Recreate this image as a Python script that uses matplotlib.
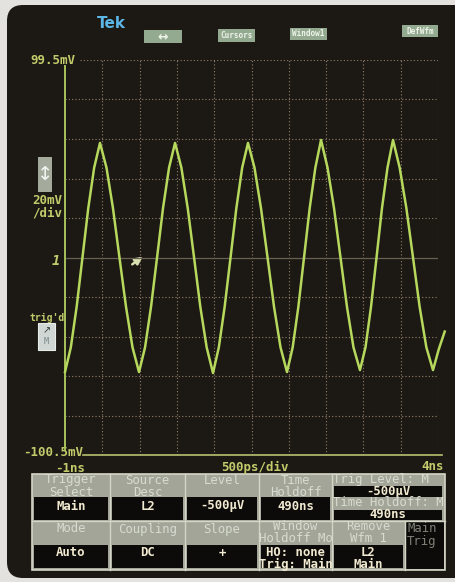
import numpy as np
import matplotlib.pyplot as plt
from matplotlib.patches import FancyBboxPatch, Rectangle

W, H = 455, 582

# trace: time in ns, level in mV
t_ns = [-1.000, -0.922, -0.844, -0.766, -0.688, -0.609, -0.531,
        -0.444, -0.357, -0.270, -0.182, -0.095, -0.008,
        0.073, 0.153, 0.234, 0.314, 0.395, 0.475,
        0.560, 0.645, 0.730, 0.814, 0.899, 0.984,
        1.062, 1.140, 1.219, 1.297, 1.375, 1.453,
        1.540, 1.627, 1.715, 1.802, 1.889, 1.976,
        2.052, 2.128, 2.204, 2.280, 2.356, 2.432,
        2.519, 2.606, 2.693, 2.780, 2.867, 2.954,
        3.028, 3.102, 3.176, 3.249, 3.323, 3.397,
        3.486, 3.576, 3.665, 3.754, 3.844, 3.933,
        4.010, 4.090]
v_mv = [-58.5, -46, -25.5, -0.5, 24.5, 45, 57.5,
        45, 24.5, -0.5, -25.5, -46, -58.5,
        -46, -25.5, -0.5, 24.5, 45, 57.5,
        45, 24.5, -0.5, -25.5, -46, -59,
        -46, -25.5, -0.5, 24.5, 45, 57.5,
        45, 24.5, -0.5, -25.5, -46, -58.5,
        -46, -25.5, -0.5, 24.5, 45, 59,
        45, 24.5, -0.5, -25.5, -46, -57.5,
        -46, -25.5, -0.5, 24.5, 45, 59,
        45, 24.5, -0.5, -25.5, -46, -57.5,
        -47, -38]

v_top, v_bot = 99.5, -100.5
t_left, t_right = -1, 4
mv_per_div = 20
ns_per_div = 0.5
trig_mv = -0.5

top_buttons = ['\u2194', 'Cursors', 'Window1', 'DefWfm']

row1_labels = [['Trigger', 'Select'], ['Source', 'Desc'], ['Level'], ['Time', 'Holdoff']]
row1_values = ['Main', 'L2', '-500\u00b5V', '490ns']
row2_labels = [['Mode'], ['Coupling'], ['Slope'], ['Window', 'Holdoff Mo'], ['Remove', 'Wfm 1']]
row2_values = [['Auto'], ['DC'], ['+'], ['HO: none', 'Trig: Main'], ['L2', 'Main']]

TRACE = '#b6d85c'
AXIS = '#a8c25a'
TXT = '#c2ca6a'
GRID = '#927f68'
MONO = 'DejaVu Sans Mono'

fig = plt.figure(figsize=(W / 100, H / 100), dpi=100)
fig.patch.set_facecolor('#e4e2de')
bg = fig.add_axes([0, 0, 1, 1])
bg.set_xlim(0, W)
bg.set_ylim(H, 0)
bg.axis('off')
bg.add_patch(FancyBboxPatch((7, 5), 470, 573, boxstyle='round,pad=0,rounding_size=16',
                            fc='#1c1915', ec='none'))

# screen axes
ax = fig.add_axes([65 / W, (H - 455) / H, 373 / W, 395 / H])
ax.set_xlim(t_left, t_right)
ax.set_ylim(v_bot, v_top)
ax.axis('off')

for x in np.arange(t_left + ns_per_div, t_right + 0.01, ns_per_div):
    ax.axvline(x, ls=(0, (1, 2)), color=GRID, lw=0.8)
for k in range(10):
    y = v_top - k * mv_per_div
    if k == 5:
        continue
    ax.axhline(y, xmin=0.04 if k == 0 else 0, ls=(0, (1, 2)), color=GRID, lw=0.8)
ax.axhline(trig_mv, color='#6a6050', lw=0.9)

ax.plot([t_left, t_left], [v_bot + 2.5, v_top - 3], color=AXIS, lw=1.4, clip_on=False)
ax.plot([t_left + 0.24, t_right + 0.054], [v_bot, v_bot], color='#b8c070', lw=1.2, clip_on=False)

ax.plot(t_ns, v_mv, color=TRACE, lw=1.8, clip_on=False, solid_joinstyle='round')

# trigger arrow
bg.annotate('', xy=(145, 255), xytext=(130, 266),
            arrowprops=dict(arrowstyle='-|>', color='#d8e0b0', lw=1.8, mutation_scale=11))

# scale texts
bg.text(75, 61, '99.5mV', color=TXT, fontsize=9, family=MONO, fontweight='bold', ha='right', va='center')
bg.text(83, 453, '-100.5mV', color=TXT, fontsize=9, family=MONO, fontweight='bold', ha='right', va='center')
bg.text(70, 468, '-1ns', color=TXT, fontsize=9, family=MONO, fontweight='bold', ha='center', va='center')
bg.text(255, 467, '500ps/div', color=TXT, fontsize=9, family=MONO, fontweight='bold', ha='center', va='center')
bg.text(444, 467, '4ns', color=TXT, fontsize=9, family=MONO, fontweight='bold', ha='right', va='center')
bg.text(47, 200, '20mV', color=TXT, fontsize=9, family=MONO, fontweight='bold', ha='center', va='center')
bg.text(47, 213, '/div', color=TXT, fontsize=9, family=MONO, fontweight='bold', ha='center', va='center')
bg.text(47, 318, "trig'd", color=TXT, fontsize=7, family=MONO, fontweight='bold', ha='center', va='center')
bg.text(56, 261, '1', color=TXT, fontsize=10, family=MONO, fontweight='bold', ha='center', va='center',
        style='italic')

# up/down box and trig'd box
bg.add_patch(Rectangle((38, 157), 14, 35, fc='#a4ab9c', ec='none'))
bg.text(45, 174, '\u2195', color='#f0f4f0', fontsize=14, ha='center', va='center')
bg.add_patch(Rectangle((38, 323), 17, 27, fc='#cfd6d4', ec='#e8ece8', lw=0.8))
bg.text(46.5, 330, '\u2197', color='#304040', fontsize=7, ha='center', va='center')
bg.text(46.5, 342, 'M', color='#7a8888', fontsize=6, family=MONO, ha='center', va='center')

# top bar
bg.text(111, 23, 'Tek', color='#5cb6e6', fontsize=11, fontweight='bold', ha='center', va='center')
btn_boxes = [(144, 30, 38, 13), (218, 29, 37, 13), (290, 28, 37, 12), (402, 25, 36, 12)]
for (bx, by, bw, bh), lab in zip(btn_boxes, top_buttons):
    bg.add_patch(Rectangle((bx, by), bw, bh, fc='#94aa90', ec='none'))
    bg.text(bx + bw / 2, by + bh / 2, lab, color='#eef4ea', fontsize=5.5 if lab != '\u2194' else 9,
            fontweight='bold', ha='center', va='center', family=MONO if lab != '\u2194' else None)

# menu table
cx = [32, 110, 185, 259, 332, 405, 445]
LBL = '#d8dbcf'
VAL = '#f2ead0'
GRAY = '#a2a598'
EDGE = '#d4d6c6'
bg.add_patch(Rectangle((32, 474), 413, 96, fc=GRAY, ec=EDGE, lw=1.2))
for i in range(4):
    bg.add_patch(Rectangle((cx[i] + 2, 497), cx[i + 1] - cx[i] - 4, 23, fc='#0c0b09', ec='none'))
for i in range(5):
    bg.add_patch(Rectangle((cx[i] + 2, 545), cx[i + 1] - cx[i] - 4, 23, fc='#0c0b09', ec='none'))
bg.add_patch(Rectangle((cx[5] + 1, 522), cx[6] - cx[5] - 2, 47, fc='#0c0b09', ec='none'))
bg.add_patch(Rectangle((334, 486), 108, 11, fc='#0c0b09', ec='none'))
bg.add_patch(Rectangle((334, 510), 108, 10, fc='#0c0b09', ec='none'))
for x in cx[1:6]:
    bg.plot([x, x], [474 if x <= 332 else 521, 570], color=EDGE, lw=1)
bg.plot([32, 445], [521, 521], color=EDGE, lw=1)

fs = 8.8
for i, lines in enumerate(row1_labels):
    mid = (cx[i] + cx[i + 1]) / 2
    for j, s in enumerate(lines):
        bg.text(mid, 480 + j * 12, s, color=LBL, fontsize=fs, family=MONO, ha='center', va='center')
    bg.text(mid, 506, row1_values[i], color=VAL, fontsize=fs, family=MONO, fontweight='bold',
            ha='center', va='center')
for i, lines in enumerate(row2_labels):
    mid = (cx[i] + cx[i + 1]) / 2
    for j, s in enumerate(lines):
        yy = 529 if len(lines) == 1 else 527 + j * 11.5
        bg.text(mid, yy, s, color=LBL, fontsize=fs, family=MONO, ha='center', va='center', clip_on=True)
    vals = row2_values[i]
    for j, s in enumerate(vals):
        yy = 553 if len(vals) == 1 else 552 + j * 12
        bg.text(mid, yy, s, color=VAL, fontsize=fs, family=MONO, fontweight='bold',
                ha='center', va='center')

clip = Rectangle((333, 474), 110, 47, transform=bg.transData)
for yy, s, c, w in [(479, 'Trig Level: M', LBL, 'normal'), (491, '-500\u00b5V', VAL, 'bold'),
                    (503, 'Time Holdoff: M', LBL, 'normal'), (515, '490ns', VAL, 'bold')]:
    t = bg.text(333 if w == 'normal' else 388, yy, s, color=c, fontsize=fs, family=MONO, fontweight=w,
                ha='left' if w == 'normal' else 'center', va='center')
    t.set_clip_path(clip)
bg.text(407, 529, 'Main', color='#7e8076', fontsize=fs, family=MONO, ha='left', va='center')
bg.text(407, 541, 'Trig', color='#7e8076', fontsize=fs, family=MONO, ha='left', va='center')

fig.savefig('out.png', dpi=100, facecolor=fig.get_facecolor())
